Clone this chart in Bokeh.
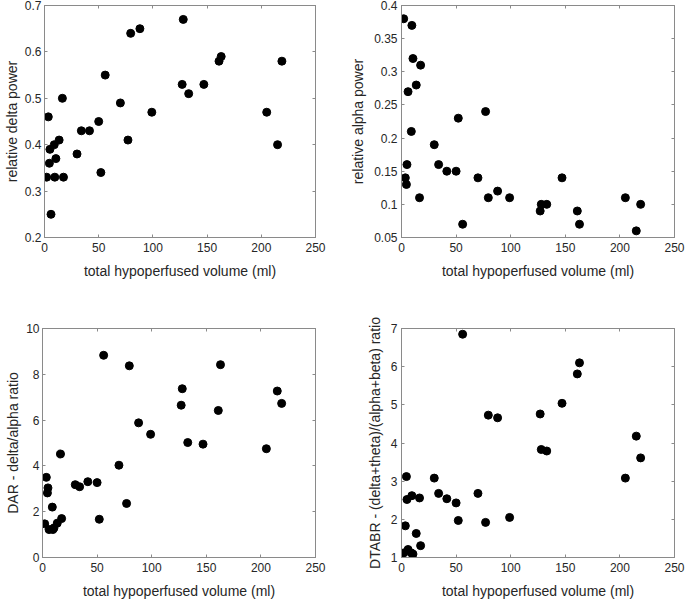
from bokeh.plotting import figure
from bokeh.layouts import column, row
from bokeh.models import LinearAxis, FixedTicker, Range1d
from bokeh.embed import file_html
from bokeh.resources import INLINE

# ---- data ----
volume = [2, 3.5, 4.5, 5, 6, 9, 9.5, 10.5, 13.5, 16.5, 17.5, 30, 34, 41.5, 50, 52,
          56, 70, 77, 79.5, 88, 99, 127, 128, 133, 147, 161, 163, 205, 215, 219]

delta_power = [0.33, 0.46, 0.36, 0.39, 0.25, 0.40, 0.33, 0.37, 0.41, 0.50, 0.33, 0.38,
               0.43, 0.43, 0.45, 0.34, 0.55, 0.49, 0.41, 0.64, 0.65, 0.47, 0.53, 0.67,
               0.51, 0.53, 0.58, 0.59, 0.47, 0.40, 0.58]

alpha_power = [0.38, 0.14, 0.13, 0.16, 0.27, 0.21, 0.37, 0.32, 0.28, 0.11, 0.31, 0.19,
               0.16, 0.15, 0.15, 0.23, 0.07, 0.14, 0.24, 0.11, 0.12, 0.11, 0.09, 0.10,
               0.10, 0.14, 0.09, 0.07, 0.11, 0.06, 0.10]

dar = [1.47, 3.50, 2.82, 3.04, 1.22, 2.20, 1.22, 1.29, 1.50, 4.52, 1.70, 3.18,
       3.09, 3.31, 3.27, 1.67, 8.83, 4.03, 2.36, 8.37, 5.88, 5.38, 6.65, 7.37,
       5.02, 4.95, 6.42, 8.42, 4.75, 7.27, 6.73]

dtabr = [1.12, 1.83, 3.12, 2.52, 1.21, 1.12, 2.62, 1.09, 1.63, 2.56, 1.31, 3.08,
         2.68, 2.54, 2.43, 1.97, 6.85, 2.68, 1.92, 4.73, 4.66, 2.05, 4.76, 3.83,
         3.79, 5.04, 5.81, 6.10, 3.08, 4.18, 3.61]

x_ticks = [0, 50, 100, 150, 200, 250]
x_label = "total hypoperfused volume (ml)"

delta_ticks = [0.2, 0.3, 0.4, 0.5, 0.6, 0.7]
delta_tick_labels = ["0.2", "0.3", "0.4", "0.5", "0.6", "0.7"]
alpha_ticks = [0.05, 0.1, 0.15, 0.2, 0.25, 0.3, 0.35, 0.4]
alpha_tick_labels = ["0.05", "0.1", "0.15", "0.2", "0.25", "0.3", "0.35", "0.4"]
dar_ticks = [0, 2, 4, 6, 8, 10]
dar_tick_labels = ["0", "2", "4", "6", "8", "10"]
dtabr_ticks = [1, 2, 3, 4, 5, 6, 7]
dtabr_tick_labels = ["1", "2", "3", "4", "5", "6", "7"]

FONT = "Liberation Sans"
AXIS_COLOR = "#8a8a8a"
TEXT_COLOR = "#262626"


def style_axis(ax, ticks, labels=None, show_labels=True):
    ax.ticker = FixedTicker(ticks=ticks)
    if labels is not None:
        ax.major_label_overrides = {t: l for t, l in zip(ticks, labels)}
    ax.axis_line_color = AXIS_COLOR
    ax.major_tick_line_color = AXIS_COLOR
    ax.minor_tick_line_color = None
    ax.major_tick_in = 3
    ax.major_tick_out = 0
    ax.major_label_text_font = FONT
    ax.major_label_text_color = TEXT_COLOR
    ax.axis_label_text_font = FONT
    ax.axis_label_text_color = TEXT_COLOR
    ax.axis_label_text_font_style = "normal"
    ax.axis_label_text_font_size = "14px"
    if show_labels:
        ax.major_label_text_font_size = "12px"
    else:
        ax.major_label_text_font_size = "0px"
        ax.major_label_standoff = 0


def make_panel(y, ylabel, yrange, yticks, ylabels, w, h, bl, br, bt, bb,
               tick_std, label_std):
    p = figure(width=w, height=h, output_backend="svg", toolbar_location=None,
               x_range=Range1d(0, 250), y_range=Range1d(*yrange),
               min_border_left=bl, min_border_right=br,
               min_border_top=bt, min_border_bottom=bb)
    p.grid.visible = False
    p.outline_line_color = AXIS_COLOR
    p.background_fill_color = "white"
    p.border_fill_color = "white"
    p.scatter(volume, y, size=8, color="black")

    xa = p.xaxis[0]
    style_axis(xa, x_ticks)
    xa.axis_label = x_label
    xa.major_label_standoff = 5
    xa.axis_label_standoff = 8

    ya = p.yaxis[0]
    style_axis(ya, yticks, ylabels)
    ya.axis_label = ylabel
    ya.major_label_standoff = tick_std
    ya.axis_label_standoff = label_std

    top = LinearAxis()
    style_axis(top, x_ticks, show_labels=False)
    top.major_label_overrides = {t: "" for t in x_ticks}
    p.add_layout(top, "above")
    right = LinearAxis()
    style_axis(right, yticks, show_labels=False)
    right.major_label_overrides = {t: "" for t in yticks}
    p.add_layout(right, "right")
    return p


p1 = make_panel(delta_power, "relative delta power", (0.2, 0.7), delta_ticks,
                delta_tick_labels, 342, 300, 42, 27, 5, 63, 3, 2)
p2 = make_panel(alpha_power, "relative alpha power", (0.05, 0.4), alpha_ticks,
                alpha_tick_labels, 343, 300, 59, 11, 5, 63, 4, 5)
p3 = make_panel(dar, "DAR - delta/alpha ratio", (0, 10), dar_ticks,
                dar_tick_labels, 342, 301, 42, 27, 28, 42, 3, 2)
p4 = make_panel(dtabr, "DTABR - (delta+theta)/(alpha+beta) ratio", (1, 7), dtabr_ticks,
                dtabr_tick_labels, 343, 301, 59, 11, 27, 42, 4, 5)

layout = column(row(p1, p2), row(p3, p4))

open("out.html", "w").write(file_html(layout, INLINE))
